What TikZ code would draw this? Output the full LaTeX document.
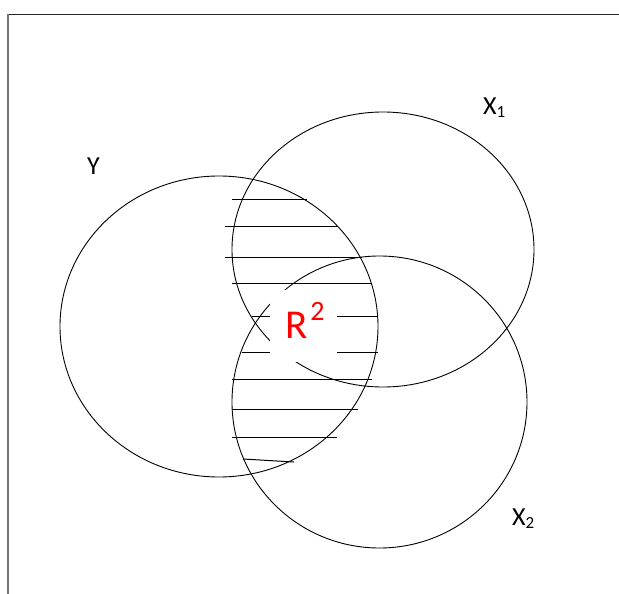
\documentclass[tikz,border=0pt]{standalone}
\usepackage{fontspec}
\setmainfont{Carlito}
\begin{document}
\begin{tikzpicture}[x=1pt,y=-1pt,
  ring/.style={draw=black,line width=0.9pt},
  hatch/.style={draw=black,line width=1pt},
  setlabel/.style={anchor=base west,inner sep=0pt,font=\fontsize{26}{26}\selectfont},
  frameline/.style={line width=1.5pt}]
\useasboundingbox (0,0) rectangle (619,594);
% frame
\coordinate (ftl) at (8,14.5);
\coordinate (ftr) at (619,14.5);
\coordinate (fbl) at (8,594);
\draw[frameline,draw=black!85] (ftl) -- (ftr);
\draw[frameline,draw=black!55] (ftl) -- (fbl);
% circles
\draw[ring] (219,326.5) ellipse [x radius=159, y radius=150.5];
\draw[ring] (383,249.5) ellipse [x radius=151, y radius=137.5];
\draw[ring] (379.5,402) ellipse [x radius=147.5, y radius=146];
% hatch lines
\foreach \ya/\xa/\yb/\xb in {199/232/199/307, 226/225/226/337, 257/225/257/362,
  283/232/283/372, 316/252/316/378, 352/242/352/378, 379/232/379/372,
  409/232/409/358, 437/232/437/337, 459/243/462/294}
  \draw[hatch] (\xa,\ya) -- (\xb,\yb);
% label box
\node[fill=white,inner sep=0pt,minimum width=67pt,minimum height=72pt] (box) at (303.5,326) {};
\node[anchor=base west,inner sep=0pt,text=red] (r2) at (285.5,338)
  {\fontsize{41}{41}\selectfont R\hspace{2.5pt}\raisebox{18pt}{\fontsize{28}{28}\selectfont 2}};
% set labels
\node[setlabel] (y) at (87,174) {Y};
\node[setlabel] (x1) at (483,114) {X\raisebox{-3pt}{\fontsize{17}{17}\selectfont 1}};
\node[setlabel] (x2) at (512,525) {X\raisebox{-3pt}{\fontsize{17}{17}\selectfont 2}};
\end{tikzpicture}
\end{document}
